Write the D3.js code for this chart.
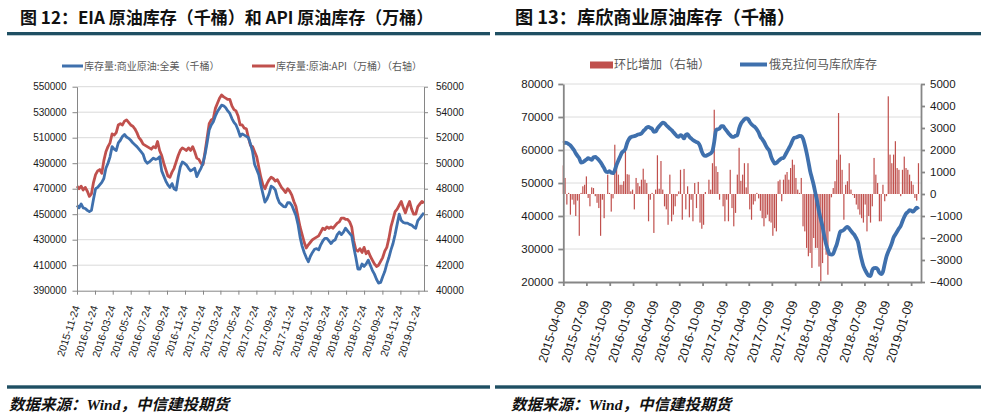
<!doctype html>
<meta charset="utf-8">
<style>
  body { margin: 0; background: #fff; }
  svg { display: block; font-family: "Liberation Sans", Arial, sans-serif; }
  .cjk { font-family: "Noto Sans CJK SC", sans-serif; }
  .axis path, .axis line { stroke: #868686; }
  .axis text { fill: #1a1a1a; }
</style>
<body>
<script src="https://cdn.jsdelivr.net/npm/d3@7/dist/d3.min.js"></script>
<script>
// ---- 图12: weekly, from 2015-11-24 ----
var eiaStart = '2015-11-24';
// 库存量:商业原油:全美 (千桶)
var eiaStock = [
  457000,455000,458000,455000,454500,453000,452000,453000,462000,470000,
  471000,473000,475000,478000,486000,490000,495000,503000,501000,500000,
  506000,508000,511000,512600,510500,509500,508000,506000,504500,503000,
  501000,499000,497000,492000,490000,491000,492500,494000,493000,493500,
  495000,484000,480000,476000,473000,471000,474000,470000,469000,479000,
  487000,491000,490000,488500,486000,484000,485000,486000,479500,483000,
  486000,490000,497000,506000,516000,520000,522500,527000,530500,533000,
  535500,535000,533500,531000,529000,525000,522000,520000,516000,511000,
  513000,512000,511000,510000,505000,499000,489000,485000,481000,473000,
  466000,459500,462000,466000,472000,471000,469000,463000,459000,457500,
  456000,455800,459000,459000,457000,453000,449000,442000,432000,425000,
  420000,416000,412700,417000,420000,422500,423000,422000,426000,429000,
  431000,431000,429000,427000,429000,430000,434000,436000,434000,436000,
  439000,437000,435000,433000,424000,416000,407000,407000,411000,409000,
  411000,414000,410000,406000,403000,399000,396000,396500,401000,405000,
  411000,416000,422000,427000,434000,442000,450000,445000,443500,443000,
  443000,442000,441500,440000,439000,445000,447000,449000,451000
];
// 库存量:原油:API (万桶), right axis
var apiStock = [
  48200,48000,48200,47900,48100,47800,47400,47600,48500,49100,
  49400,49500,49200,50200,50900,51300,51600,52300,52200,52400,
  53000,53100,53000,53300,53400,53200,53000,52900,52700,52400,
  52000,51800,51500,51400,51300,51200,51100,51300,51200,51700,
  51000,50600,50000,49500,49000,48900,49300,49600,50100,50600,
  51000,51200,51100,51000,51200,51000,51300,50900,50400,50300,
  50000,49900,50900,52000,53100,53400,53500,54300,54700,55100,
  55350,55200,55100,55000,55000,54500,54200,54100,53700,53000,
  53000,52750,52700,52000,51400,51300,50900,50500,49700,48900,
  48300,48000,48400,48700,48900,48800,48600,48700,48400,48100,
  47900,47700,48000,47800,47500,47000,46600,45800,45000,44400,
  43800,43350,43600,43800,44000,44100,44200,44300,44600,44900,
  44800,45000,44900,45000,44900,45100,45300,45400,45700,45700,
  45600,45600,45400,45000,43900,43200,43100,43300,43000,43400,
  42900,43100,42700,42400,42100,41900,42000,42300,42600,43100,
  43400,44100,45000,45600,46200,46400,46700,47000,46500,46100,
  46600,47000,46400,46000,46000,46600,46800,47000,46900
];
var eiaTicks = ['2015-11-24','2016-01-24','2016-03-24','2016-05-24','2016-07-24',
  '2016-09-24','2016-11-24','2017-01-24','2017-03-24','2017-05-24','2017-07-24',
  '2017-09-24','2017-11-24','2018-01-24','2018-03-24','2018-05-24','2018-07-24',
  '2018-09-24','2018-11-24','2019-01-24'];
var eiaLeftTicks = [390000,410000,430000,450000,470000,490000,510000,530000,550000];
var eiaRightTicks = [40000,42000,44000,46000,48000,50000,52000,54000,56000];

// ---- 图13: weekly, from 2015-04-09 ----
var cushStart = '2015-04-09';
// 俄克拉何马库欣库存 (千桶)
var cushStock = [
  62000,62200,62100,61800,61400,60700,60000,59000,58200,57500,
  56200,56300,56700,57100,57500,57300,57000,57800,57900,57500,
  57000,56300,55400,54500,53400,53300,53600,53100,53000,53900,
  55500,56800,58000,59200,59700,60400,62200,63300,63900,64100,
  64200,64400,64700,64800,65000,65700,66200,66800,67000,66700,
  66400,65500,65600,66500,67200,67800,68300,68100,67500,67000,
  66500,66000,65400,64800,64200,64000,64500,64200,63500,64600,
  64800,64000,63500,63000,62700,62400,62100,61200,59500,58500,
  58200,58400,58700,59000,59700,62500,66000,66300,66500,67200,
  67200,66500,65800,65100,64500,64000,64000,64300,64500,66500,
  67900,68700,69300,69600,69400,68500,67800,67300,66900,66200,
  65300,64000,63300,62500,61400,60500,59800,58000,56800,55900,
  56100,56600,57100,57500,57600,58500,59500,60500,61500,62800,
  63700,63800,64000,64300,64200,63400,61500,59200,56500,53600,
  51500,49400,46800,44300,41300,39000,36700,33800,31400,29700,
  28400,28300,28600,30000,31400,33500,35300,35500,35800,36400,
  36700,36200,35500,34800,34200,33200,32000,29200,26800,24800,
  23600,22600,21900,21800,23600,24200,24300,23900,22800,22400,
  23100,25500,27700,29200,30400,31800,33500,34400,35300,36200,
  37000,38400,39700,40700,41200,41800,41600,41300,41900,42500,
  42000
];
// 环比增加 (千桶), right axis
var cushChange = [
  1300,730,-480,50,-940,-260,-480,-1000,-300,-1900,
  50,350,420,800,-180,-560,300,270,-100,-400,
  -640,-1900,-260,-1100,0,880,50,-800,-200,2240,
  1500,880,420,420,580,2000,900,880,120,200,
  -700,730,500,350,650,1150,650,500,-1240,-260,
  50,-1770,200,1760,240,1500,200,-560,-700,-1400,
  880,-1240,-940,-560,-100,120,1100,-1170,1140,-700,
  350,-1060,-260,-1240,500,-640,550,-1300,-1580,-1400,
  90,0,650,200,1400,3830,1260,1000,-260,0,
  -560,-1240,-260,-1240,1100,-640,-1470,-860,880,
  2100,600,880,1400,300,1400,-700,-1170,-480,-330,
  50,-200,-760,-1100,-1470,-1100,-940,-1240,-1300,-1900,
  -1550,-1700,580,650,-330,650,880,1000,650,1180,
  1560,1330,730,200,50,730,-1470,-1700,-2450,-2830,
  -2680,-3360,-2000,-2450,-2450,-3300,-3970,-3140,-1700,-2760,
  -3670,-1700,-150,270,580,1560,3680,1790,1100,-1170,
  420,580,1400,200,-50,-180,-480,-700,-940,-1100,
  -1300,-480,-1700,-1000,-1300,-560,1640,880,500,-1240,
  -1240,420,-330,-100,4440,1790,1400,1790,2400,1180,
  1100,-100,1100,1700,1180,1100,880,580,420,-180,
  -300,1400
];
var cushTicks = ['2015-04-09','2015-07-09','2015-10-09','2016-01-09','2016-04-09',
  '2016-07-09','2016-10-09','2017-01-09','2017-04-09','2017-07-09','2017-10-09',
  '2018-01-09','2018-04-09','2018-07-09','2018-10-09','2019-01-09'];
var cushLeftTicks = [20000,30000,40000,50000,60000,70000,80000];
var cushRightTicks = [-4000,-3000,-2000,-1000,0,1000,2000,3000,4000,5000];

var blue = '#3f70ad', red = '#c0504d', rule = '#1f4f63';

var parse = d3.timeParse('%Y-%m-%d');
var fmt = d3.timeFormat('%Y-%m-%d');
function weekly(start, n){
  var t0 = parse(start);
  return d3.range(n).map(function(i){ return d3.timeDay.offset(t0, 7 * i); });
}

var svg = d3.select('body').append('svg').attr('width', 985).attr('height', 417);
svg.append('rect').attr('width', 985).attr('height', 417).attr('fill', '#fff');

// ---------- frame: titles, rules, sources ----------
function frame(x, size, x0, x1, srcX, title){
  svg.append('text').attr('class', 'cjk').attr('x', x).attr('y', 24)
    .style('font-size', size + 'px').style('font-weight', 'bold').attr('fill', '#111')
    .text(title);
  svg.append('rect').attr('x', x0).attr('y', 32).attr('width', x1 - x0).attr('height', 3.3).attr('fill', rule);
  svg.append('rect').attr('x', x0).attr('y', 385.3).attr('width', x1 - x0).attr('height', 3.4).attr('fill', rule);
  var src = svg.append('text').attr('class', 'cjk').attr('x', srcX).attr('y', 410)
    .style('font-size', '15.5px').style('font-weight', 'bold').style('font-style', 'italic').attr('fill', '#111');
  src.append('tspan').text('数据来源：');
  src.append('tspan').style('font-family', '"Liberation Serif", serif').text('Wind');
  src.append('tspan').text('，中信建投期货');
}
frame(20, 17, 7, 490, 9, '图 12：EIA 原油库存（千桶）和 API 原油库存（万桶）');
frame(515, 18.2, 495, 981, 511, '图 13：库欣商业原油库存（千桶）');

// ---------- chart 12 ----------
(function(){
  var x0 = 77, x1 = 424, yTop = 86.7, yBot = 290.7;
  var dates = weekly(eiaStart, eiaStock.length);
  var x = d3.scaleTime().domain([dates[0], dates[dates.length - 1]]).range([x0, x1]);
  var yL = d3.scaleLinear().domain([390000, 550000]).range([yBot, yTop]);
  var yR = d3.scaleLinear().domain([40000, 56000]).range([yBot, yTop]);
  var g = svg.append('g');

  g.selectAll('.grid').data(eiaLeftTicks.slice(1)).enter().append('line')
    .attr('x1', x0).attr('x2', x1)
    .attr('y1', function(d){ return yL(d); }).attr('y2', function(d){ return yL(d); })
    .attr('stroke', '#d9d9d9');

  var lineL = d3.line().x(function(d, i){ return x(dates[i]); }).y(function(d){ return yL(d); });
  var lineR = d3.line().x(function(d, i){ return x(dates[i]); }).y(function(d){ return yR(d); });
  g.append('path').datum(apiStock).attr('d', lineR).attr('fill', 'none')
    .attr('stroke', red).attr('stroke-width', 2.8).attr('stroke-linejoin', 'round');
  g.append('path').datum(eiaStock).attr('d', lineL).attr('fill', 'none')
    .attr('stroke', blue).attr('stroke-width', 2.8).attr('stroke-linejoin', 'round');

  var ax = g.append('g').attr('class', 'axis').attr('transform', 'translate(' + x0 + ',0)')
    .call(d3.axisLeft(yL).tickValues(eiaLeftTicks).tickSize(4.5).tickSizeOuter(0).tickPadding(6).tickFormat(d3.format('d')));
  ax.selectAll('text').style('font-size', '10px');
  var axr = g.append('g').attr('class', 'axis').attr('transform', 'translate(' + x1 + ',0)')
    .call(d3.axisRight(yR).tickValues(eiaRightTicks).tickSize(4).tickSizeOuter(0).tickPadding(8).tickFormat(d3.format('d')));
  axr.selectAll('text').style('font-size', '10px');
  var axb = g.append('g').attr('class', 'axis').attr('transform', 'translate(0,' + yBot + ')')
    .call(d3.axisBottom(x).tickValues(eiaTicks.map(parse)).tickSize(4).tickSizeOuter(0).tickFormat(fmt));
  axb.selectAll('text').style('font-size', '10.5px')
    .attr('x', 0).attr('y', 0).attr('dy', '0.35em').attr('text-anchor', 'end')
    .attr('transform', 'translate(-1,15) rotate(-72)');

  // legend
  var lg = g.append('g').attr('class', 'cjk').style('font-size', '10px');
  lg.append('line').attr('x1', 62).attr('x2', 83).attr('y1', 66).attr('y2', 66).attr('stroke', blue).attr('stroke-width', 3);
  lg.append('text').attr('x', 84).attr('y', 66).attr('dy', '0.35em').attr('fill', '#595959').text('库存量:商业原油:全美（千桶）');
  lg.append('line').attr('x1', 252).attr('x2', 275).attr('y1', 66).attr('y2', 66).attr('stroke', red).attr('stroke-width', 3);
  lg.append('text').attr('x', 276).attr('y', 66).attr('dy', '0.35em').attr('fill', '#595959').text('库存量:原油:API（万桶）（右轴）');
})();

// ---------- chart 13 ----------
(function(){
  var x0 = 563.3, x1 = 921, yTop = 84, yBot = 282;
  var t0 = parse(cushStart);
  var dates = weekly(cushStart, cushStock.length);
  var x = d3.scaleTime().domain([t0, d3.timeDay.offset(t0, 1410)]).range([x0, x1]);
  var yL = d3.scaleLinear().domain([20000, 80000]).range([yBot, yTop]);
  var yR = d3.scaleLinear().domain([-4000, 5000]).range([yBot, yTop]);
  var g = svg.append('g');

  g.selectAll('.grid').data(cushLeftTicks.slice(1)).enter().append('line')
    .attr('x1', x0).attr('x2', x1)
    .attr('y1', function(d){ return yL(d); }).attr('y2', function(d){ return yL(d); })
    .attr('stroke', '#dcdcdc');

  var bdates = weekly(cushStart, cushChange.length);
  g.selectAll('.bar').data(cushChange).enter().append('rect')
    .attr('x', function(d, i){ return x(bdates[i]) - 0.6; })
    .attr('width', 1.2)
    .attr('y', function(d){ return Math.min(yR(d), yR(0)); })
    .attr('height', function(d){ return Math.abs(yR(d) - yR(0)); })
    .attr('fill', red);

  var line = d3.line().x(function(d, i){ return x(dates[i]); }).y(function(d){ return yL(d); }).curve(d3.curveMonotoneX);
  g.append('path').datum(cushStock).attr('d', line).attr('fill', 'none')
    .attr('stroke', blue).attr('stroke-width', 3.8).attr('stroke-linejoin', 'round');

  var ax = g.append('g').attr('class', 'axis').attr('transform', 'translate(' + x0 + ',0)')
    .call(d3.axisLeft(yL).tickValues(cushLeftTicks).tickSize(5).tickSizeOuter(0).tickPadding(5).tickFormat(d3.format('d')));
  ax.selectAll('text').style('font-size', '11.5px');
  var axr = g.append('g').attr('class', 'axis').attr('transform', 'translate(' + x1 + ',0)')
    .call(d3.axisRight(yR).tickValues(cushRightTicks).tickSize(4).tickSizeOuter(0).tickPadding(5).tickFormat(d3.format('d')));
  axr.selectAll('text').style('font-size', '11.5px');
  var axb = g.append('g').attr('class', 'axis').attr('transform', 'translate(0,' + yBot + ')')
    .call(d3.axisBottom(x).tickValues(cushTicks.map(parse)).tickSize(4).tickSizeOuter(0).tickFormat(fmt));
  axb.selectAll('text').style('font-size', '12.5px')
    .attr('x', 0).attr('y', 0).attr('dy', '0.35em').attr('text-anchor', 'end')
    .attr('transform', 'translate(-2,19) rotate(-72)');
  g.selectAll('.axis path, .axis line').attr('stroke', '#808080').attr('stroke-width', 1.8);

  // legend
  var lg = g.append('g').attr('class', 'cjk').style('font-size', '12px');
  lg.append('rect').attr('x', 590).attr('y', 61.5).attr('width', 23).attr('height', 7).attr('fill', red);
  lg.append('text').attr('x', 614).attr('y', 65).attr('dy', '0.35em').attr('fill', '#595959').text('环比增加（右轴）');
  lg.append('line').attr('x1', 740).attr('x2', 767).attr('y1', 64.5).attr('y2', 64.5).attr('stroke', blue).attr('stroke-width', 4);
  lg.append('text').attr('x', 769).attr('y', 65).attr('dy', '0.35em').attr('fill', '#595959').text('俄克拉何马库欣库存');
})();
</script>
</body>
